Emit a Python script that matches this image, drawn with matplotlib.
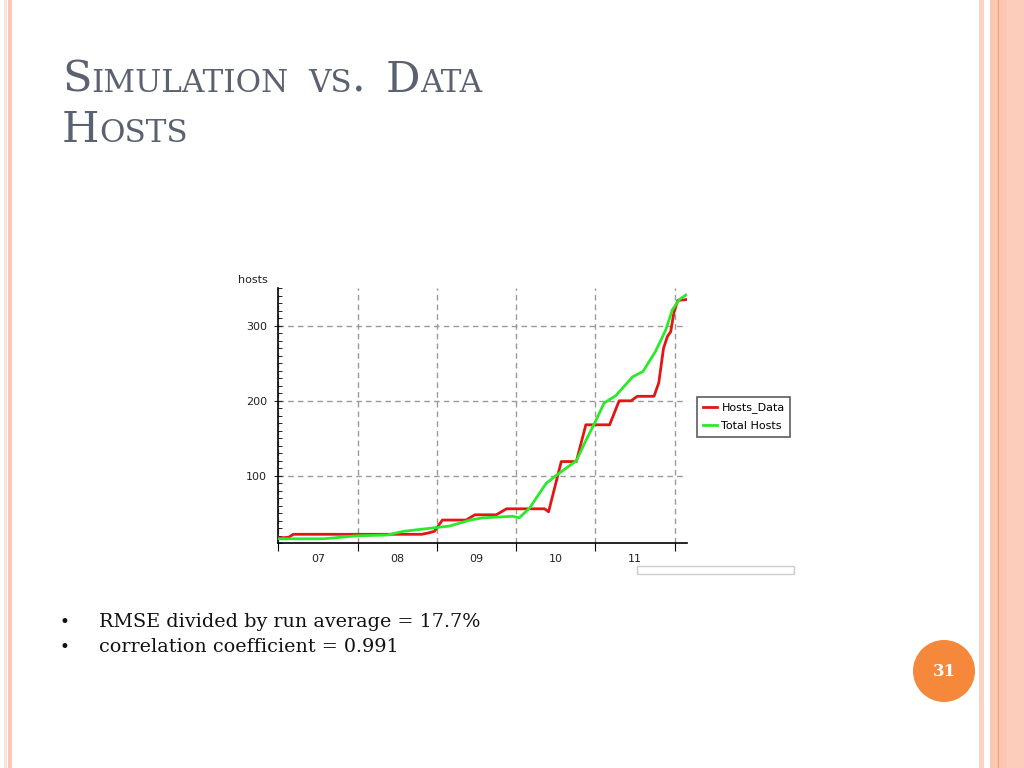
import matplotlib
matplotlib.use("Agg")
import matplotlib.pyplot as plt
from matplotlib.patches import Rectangle, Circle
from matplotlib.ticker import MultipleLocator, FixedLocator, NullFormatter

# Data (x = months since start of "07")
month_labels = ["07", "08", "09", "10", "11"]
data_x = [0, 0.13, 0.19, 1.81, 1.9, 1.97, 2.03, 2.07, 2.37, 2.48, 2.75, 2.88, 3.36, 3.41,
          3.57, 3.76, 3.88, 4.18, 4.30, 4.45, 4.53, 4.74, 4.80, 4.86, 4.91, 4.95, 4.99,
          5.04, 5.16]
data_y = [17, 18, 22, 22, 24, 26, 35, 41, 41, 48, 48, 56, 56, 52,
          119, 119, 168, 168, 200, 200, 206, 206, 224, 270, 286, 292, 317,
          334, 335]
sim_x = [0, 0.57, 0.99, 1.37, 1.58, 1.91, 2.16, 2.42, 2.58, 2.96, 3.04, 3.17, 3.38, 3.55,
         3.76, 3.88, 3.99, 4.11, 4.26, 4.47, 4.60, 4.76, 4.89, 4.97, 5.06, 5.14]
sim_y = [16, 16, 20, 21, 26, 30, 33, 41, 44, 46, 44, 57, 90, 104,
         120, 147, 170, 197, 207, 232, 239, 266, 295, 321, 335, 341]
bullets = ["RMSE divided by run average = 17.7%", "correlation coefficient = 0.991"]

W, H = 1024, 768
fig = plt.figure(figsize=(W / 100, H / 100), dpi=100)

# slide background layer in pixel coords
bg = fig.add_axes([0, 0, 1, 1])
bg.set_xlim(0, W)
bg.set_ylim(H, 0)
bg.axis("off")

# borders
bg.add_patch(Rectangle((4, 0), 3, H, color="#fbe3d9", lw=0))
bg.add_patch(Rectangle((8, 0), 4, H, color="#fbc8b5", lw=0))
bg.add_patch(Rectangle((979, 0), 5, H, color="#fbd3c4", lw=0))
bg.add_patch(Rectangle((990, 0), 17, H, color="#fbc7b3", lw=0))
bg.add_patch(Rectangle((997.5, 0), 1.5, H, color="#f29a70", lw=0))
bg.add_patch(Rectangle((1007, 0), 17, H, color="#fccdbb", lw=0))

# title in small caps
renderer = fig.canvas.get_renderer()
title_color = "#5a6170"


def small_caps(parts, x, y):
    for txt, big in parts:
        if txt == " ":
            x += 20
            continue
        t = bg.text(x, y, txt, fontsize=31 if big else 22.3, family="DejaVu Serif",
                    color=title_color, va="baseline", ha="left")
        x += t.get_window_extent(renderer).width


small_caps([("S", True), ("IMULATION", False), (" ", False), ("VS", False), (".", True),
            (" ", False), ("D", True), ("ATA", False)], 62, 92)
small_caps([("H", True), ("OSTS", False)], 62, 142)

# bullets
for i, line in enumerate(bullets):
    yy = 627 + i * 25
    bg.text(60, yy, "•", fontsize=12, family="DejaVu Serif", va="baseline", color="#111111")
    bg.text(99, yy, line, fontsize=13.8, family="DejaVu Serif", va="baseline", color="#111111")

# page number badge
bg.add_patch(Circle((944, 671), 31, color="#f5883a", lw=0))
bg.text(944, 672, "31", fontsize=12, family="DejaVu Serif", weight="bold",
        color="white", ha="center", va="center")

# faint box below chart
bg.add_patch(Rectangle((637, 566), 157, 8, fill=False, edgecolor="#cccccc", lw=1))

# chart
ax = fig.add_axes([278.3 / W, 1 - 543.3 / H, 409 / W, 255 / H])
ax.plot(data_x, data_y, color="#e31515", lw=2, label="Hosts_Data", zorder=3)
ax.plot(sim_x, sim_y, color="#2aea2a", lw=2, label="Total Hosts", zorder=4)
ax.set_xlim(0, 5.16)
ax.set_ylim(10, 350)

for s in ["top", "right"]:
    ax.spines[s].set_visible(False)
ax.spines["left"].set_linewidth(1.2)
ax.spines["bottom"].set_linewidth(1.2)

ax.yaxis.set_major_locator(FixedLocator([100, 200, 300]))
ax.yaxis.set_minor_locator(MultipleLocator(10))
ax.tick_params(axis="y", which="major", direction="inout", length=6, labelsize=8,
               pad=5, colors="#222222")
ax.tick_params(axis="y", which="minor", direction="in", length=3)

ax.xaxis.set_major_locator(FixedLocator(range(6)))
ax.xaxis.set_major_formatter(NullFormatter())
ax.xaxis.set_minor_locator(FixedLocator([i + 0.5 for i in range(5)]))
ax.set_xticklabels(month_labels, minor=True)
ax.tick_params(axis="x", which="major", direction="out", length=6)
ax.tick_params(axis="x", which="minor", length=0, labelsize=8, pad=8, colors="#222222")

ax.grid(True, which="major", linestyle=(0, (4, 3)), color="#999999", lw=1)
ax.set_axisbelow(True)

fig.text(238 / W, 1 - 280 / H, "hosts", fontsize=8, va="center", ha="left", color="#222222")

leg = ax.legend(loc="upper left", bbox_to_anchor=(697 / W, 1 - 397 / H),
                bbox_transform=fig.transFigure, fontsize=8, frameon=True, fancybox=False,
                handlelength=1.3, handletextpad=0.4, borderpad=0.5, labelspacing=0.7,
                borderaxespad=0)
leg.get_frame().set_edgecolor("#333333")
leg.get_frame().set_linewidth(1.2)

fig.savefig("out.png", dpi=100)
